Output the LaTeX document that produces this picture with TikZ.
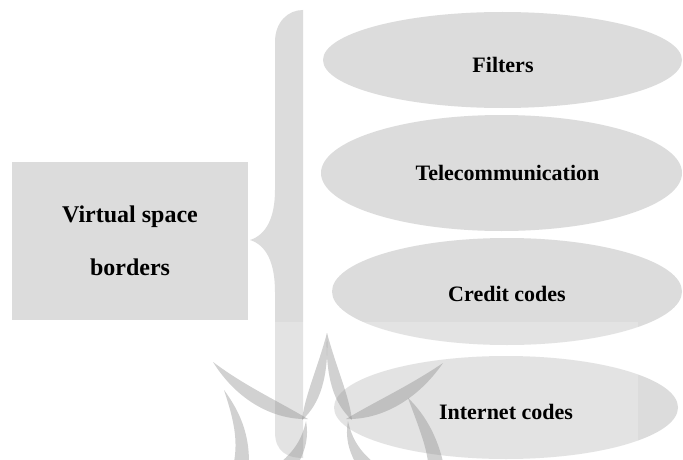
\documentclass[tikz,border=0pt]{standalone}
\usepackage{fontspec}
\setmainfont{Liberation Serif}
\usetikzlibrary{shapes.geometric}
\definecolor{shapegray}{RGB}{220,220,220}
\definecolor{markgray}{RGB}{140,140,140}
\tikzset{
  shapefill/.style={fill=shapegray, draw=none},
  oval/.style={shapefill, ellipse, inner sep=0pt},
  ovaltext/.style={font=\fontsize{22}{26}\selectfont\bfseries, inner sep=0pt},
  markfill/.style={fill=markgray, draw=none, fill opacity=0.4},
}
\begin{document}
\begin{tikzpicture}[x=1pt, y=-1pt]
\useasboundingbox (0,0) rectangle (683,460);
\fill[white] (0,0) rectangle (683,460);

% left box
\node[shapefill, rectangle, minimum width=236pt, minimum height=158pt, inner sep=0pt,
      align=center, font=\fontsize{24}{53}\selectfont\bfseries] (box) at (130,241)
      {Virtual space\\borders};

% brace
\fill[shapegray] (303,10) -- (303,458)
  .. controls (288,458) and (275,452) .. (275,432)
  -- (275,292)
  .. controls (275,262) and (266,245) .. (250,240)
  .. controls (266,235) and (275,218) .. (275,190)
  -- (275,42)
  .. controls (275,22) and (288,10) .. (303,10) -- cycle;
\coordinate (tip) at (250,240);

% ellipses
\node[oval, minimum width=359pt, minimum height=96pt] (e1) at (502.5,60) {};
\node[oval, minimum width=361pt, minimum height=116pt] (e2) at (501.5,173) {};
\node[oval, minimum width=350pt, minimum height=107pt] (e3) at (507,291.5) {};
\node[oval, minimum width=344pt, minimum height=103pt] (e4) at (506,407.5) {};

% watermark
\fill[white, opacity=0.22] (60,322) rectangle (638,460);
\begin{scope}
\clip (0,322) rectangle (683,460);
% left spike and arm
\fill[markfill] (213,362) .. controls (238,402) and (275,420) .. (308,419)
  .. controls (276,400) and (245,386) .. (213,362) -- cycle;
% top spike, left branch
\fill[markfill] (327,333) .. controls (329,377) and (320,404) .. (302,420)
  .. controls (305,395) and (317,370) .. (327,333) -- cycle;
% top spike, right branch
\fill[markfill] (327,333) .. controls (325,377) and (334,404) .. (352,420)
  .. controls (349,395) and (337,370) .. (327,333) -- cycle;
% right spike and arm
\fill[markfill] (443,363) .. controls (416,402) and (379,420) .. (346,419)
  .. controls (378,400) and (409,386) .. (443,363) -- cycle;
% lower branches near centre
\fill[markfill] (306,421) .. controls (302,440) and (293,452) .. (281,462)
  -- (299,462) .. controls (305,450) and (309,438) .. (306,421) -- cycle;
\fill[markfill] (348,421) .. controls (352,440) and (361,452) .. (373,462)
  -- (355,462) .. controls (349,450) and (345,438) .. (348,421) -- cycle;
% outer lower strokes
\fill[markfill] (224,390) .. controls (234,420) and (238,440) .. (234,462)
  -- (249,462) .. controls (249,435) and (241,413) .. (224,390) -- cycle;
\fill[markfill] (408,398) .. controls (418,425) and (426,445) .. (428,462)
  -- (443,462) .. controls (438,440) and (427,416) .. (408,398) -- cycle;
\end{scope}

% texts
\node[ovaltext] (t1) at (503,65) {Filters};
\node[ovaltext] (t2) at (507.5,173) {Telecommunication};
\node[ovaltext] (t3) at (507,294) {Credit codes};
\node[ovaltext] (t4) at (506,412) {Internet codes};
\end{tikzpicture}
\end{document}
